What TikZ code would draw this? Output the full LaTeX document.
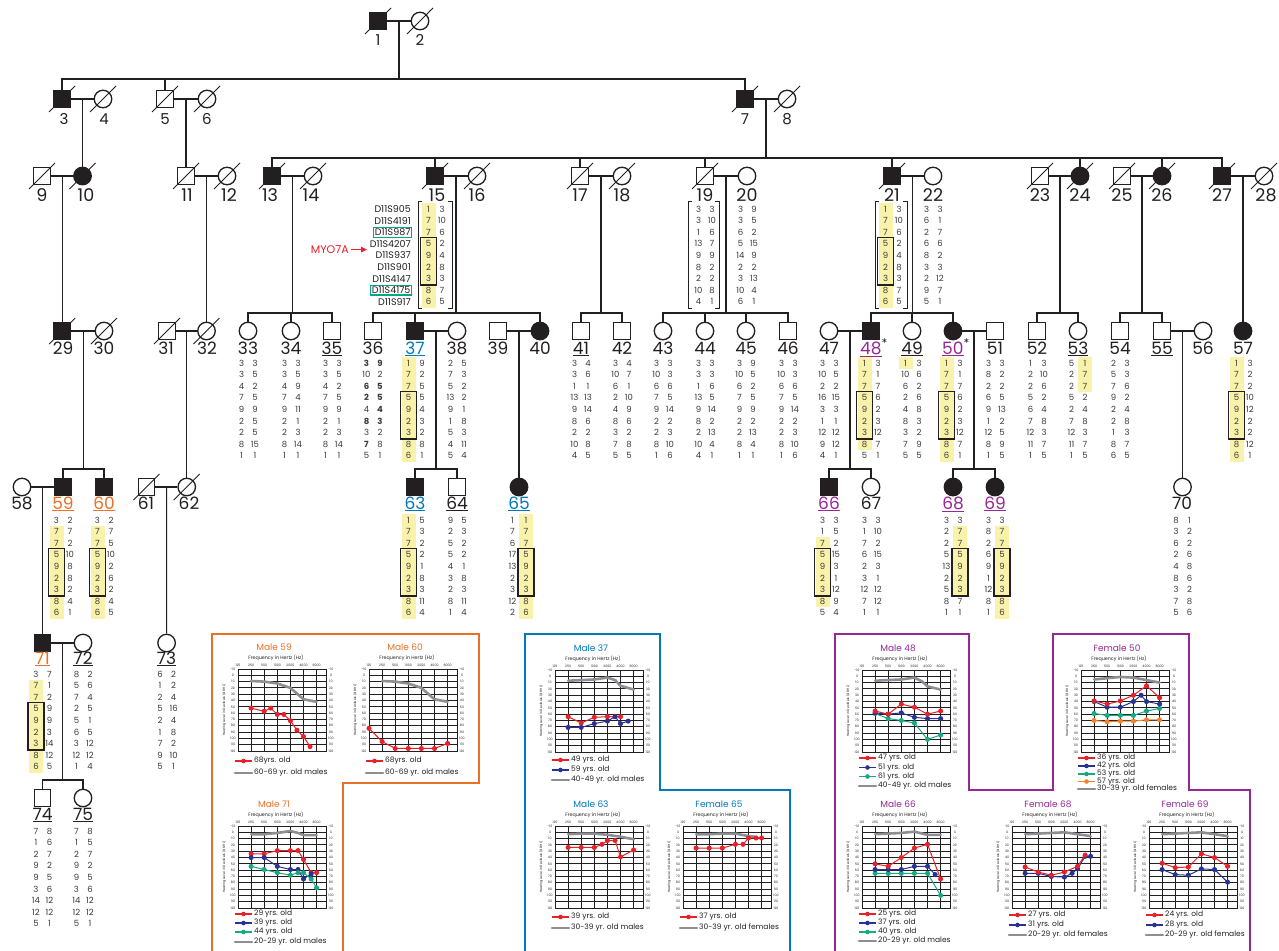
\documentclass[tikz,border=0pt]{standalone}
\usepackage{fontspec}
\setmainfont{Poppins}
\usetikzlibrary{arrows.meta,calc}
\definecolor{ora}{RGB}{234,112,40}
\definecolor{blu}{RGB}{0,120,190}
\definecolor{pur}{RGB}{150,40,150}
\definecolor{hly}{RGB}{248,242,170}
\definecolor{grn}{RGB}{0,168,136}
\definecolor{redc}{RGB}{232,32,40}
\definecolor{bluc}{RGB}{40,50,150}
\definecolor{grnc}{RGB}{20,170,130}
\definecolor{orc}{RGB}{242,130,40}
\definecolor{gryc}{RGB}{140,142,148}
\definecolor{ink}{RGB}{35,31,32}
\definecolor{inkl}{RGB}{60,58,58}
\tikzset{
 ped/.style={line width=1.1pt, draw=ink},
 msym/.style={draw=ink, line width=1.3pt, rectangle, minimum size=16.5pt, inner sep=0pt, fill=white},
 fsym/.style={draw=ink, line width=1.3pt, circle, minimum size=17.5pt, inner sep=0pt, fill=white},
 aff/.style={fill=ink},
 slashl/.style={line width=1pt, draw=ink},
 labA/.style={font=\fontsize{15}{15}\selectfont, inner sep=0pt, text=ink, anchor=base},
 labB/.style={font=\fontsize{17.5}{17.5}\selectfont, inner sep=0pt, text=ink, anchor=base},
 labC/.style={font=\fontsize{17}{17}\selectfont, inner sep=0pt, text=ink, anchor=base},
 hapnum/.style={font=\fontsize{8.5}{8.5}\selectfont, inner sep=0pt, text=inkl},
 markername/.style={font=\fontsize{9.5}{9.5}\selectfont, inner sep=0pt, anchor=east, text=ink},
 greenbox/.style={draw=grn, line width=1.1pt, inner sep=1.3pt},
 haplobox/.style={draw=ink, line width=1.5pt},
 brk/.style={draw=ink, line width=0.9pt},
 panel/.style={line width=2.4pt},
 atitle/.style={font=\fontsize{9}{9}\selectfont, inner sep=0pt},
 afq/.style={font=\fontsize{4.8}{4.8}\selectfont, inner sep=0pt, text=ink},
 atk/.style={font=\fontsize{3.2}{3.2}\selectfont, inner sep=0pt, text=ink},
 alg/.style={font=\fontsize{7.5}{7.5}\selectfont, inner sep=0pt, text=ink, anchor=west},
 agr/.style={draw=ink, line width=1pt},
 gline/.style={draw=gryc, line width=2.6pt, line cap=round, line join=round},
 dline/.style={draw=#1, line width=1pt, mark=*, mark size=2pt, mark options={fill=#1, draw=#1}},
}
\newcommand\pM[3]{\node[msym] (p#1) at (#2,#3) {};}
\newcommand\pMA[3]{\node[msym,aff] (p#1) at (#2,#3) {};}
\newcommand\pF[3]{\node[fsym] (p#1) at (#2,#3) {};}
\newcommand\pFA[3]{\node[fsym,aff] (p#1) at (#2,#3) {};}
\newcommand\pDec[1]{\draw[slashl] ([shift={(-13,13)}]p#1.center) -- ([shift={(13,-13)}]p#1.center);}
\newcommand\marr[2]{\draw[ped] (p#1) -- (p#2); \coordinate (m#1x#2) at ($(p#1)!0.5!(p#2)$);}
\newcommand\lab[5]{\node[#1] (l#2) at (#3,#4) {#5};}
\newcommand\hap[4]{%
  \foreach \ha/\hb [count=\hi] in {#4}{%
    \node[hapnum] (h#1a\hi) at ({#2-6.5},{#3+(\hi-1)*11.6}) {\ha};
    \node[hapnum] (h#1b\hi) at ({#2+7},{#3+(\hi-1)*11.6}) {\hb};
  }}
\newcommand\yelA[4]{\fill[hly] ({#1-13.5},{#2+(#3-1)*11.6-6}) rectangle ({#1+0.5},{#2+(#4-1)*11.6+6});}
\newcommand\yelB[4]{\fill[hly] ({#1},{#2+(#3-1)*11.6-6}) rectangle ({#1+14},{#2+(#4-1)*11.6+6});}
\newcommand\bxA[2]{\draw[haplobox] ({#1-14.5},{#2+3*11.6-6.5}) rectangle ({#1+1.5},{#2+6*11.6+6.5});}
\newcommand\bxB[2]{\draw[haplobox] ({#1-1},{#2+3*11.6-6.5}) rectangle ({#1+15},{#2+6*11.6+6.5});}
\newcommand\hbrk[4]{\draw[brk] ({#1+4},#3) -- (#1,#3) -- (#1,#4) -- ({#1+4},#4);
  \draw[brk] ({#2-4},#3) -- (#2,#3) -- (#2,#4) -- ({#2-4},#4);}
\newcommand\aud[5]{%
\begin{scope}[shift={(#2,#3)}]
 \node[atitle,text=#5] (#1T) at (36,-22) {#4};
 \node[afq] (#1F) at (38,-11) {Frequency in Hertz (Hz)};
 \foreach \fq [count=\kk from 0] in {125,250,500,1000,2000,4000,8000}
   {\node[atk] (#1X\kk) at ({13.1*\kk},-4) {\fq};}
 \foreach \db [count=\kk from 0] in {-10,0,10,20,30,40,50,60,70,80,90,100,110,120}{
   \node[atk] (#1L\kk) at (-5,{\kk*82/13}) {\db};
   \node[atk] (#1R\kk) at (93,{\kk*82/13}) {\db};}
 \node[atk,rotate=90] (#1Y) at (-14,41) {Hearing Level in Decibels (dB HL)};
 \foreach \kk in {1,...,6} {\draw[agr] ({13.1*\kk},0) -- ({13.1*\kk},82);}
 \foreach \kk in {1,...,12} {\draw[agr] (0,{\kk*82/13}) -- (88,{\kk*82/13});}
 \draw[agr] (0,0) rectangle (88,82);
\end{scope}}
\newcommand\crv[4]{%
\begin{scope}[shift={(#1,{#2+10*82/130})}, x=13.1pt, y=-0.630769pt]
 \draw[#3] plot coordinates {#4};
\end{scope}}
\newcommand\lgd[6]{% id x0 y0 offset colour text
\begin{scope}[shift={(#2,#3)}]
 \draw[draw=#5, line width=1.1pt] (-3,#4) -- (14,#4);
 \fill[#5] (5.5,#4) circle (2.3);
 \node[alg] (#1) at (16,#4) {#6};
\end{scope}}
\newcommand\lgg[5]{% id x0 y0 offset text
\begin{scope}[shift={(#2,#3)}]
 \draw[gline] (-3,#4) -- (14,#4);
 \node[alg] (#1) at (16,#4) {#5};
\end{scope}}
\begin{document}
\begin{tikzpicture}[x=1pt,y=-1pt]
\useasboundingbox (0,0) rectangle (1279,950);
\fill[white] (0,0) rectangle (1279,950);
% ---------------- highlights (behind text)
\yelA{435}{209}{1}{9}
\yelA{892}{209}{1}{9}
\yelA{415}{363}{1}{9}
\yelA{871}{363}{1}{8}
\yelA{912}{363}{1}{1}
\yelA{953}{363}{1}{9}
\yelB{1078}{363}{1}{3}
\yelA{1243}{363}{1}{9}
\yelA{63}{520}{2}{9}
\yelA{104}{520}{2}{9}
\yelA{415}{520}{1}{9}
\yelB{519}{520}{1}{9}
\yelA{829}{520}{3}{8}
\yelB{953}{520}{2}{7}
\yelB{995}{520}{2}{9}
\yelA{42.5}{674}{2}{9}
% ---------------- symbols
\pMA{1}{378}{21} \pF{2}{420}{21}
\pMA{3}{62}{99} \pF{4}{103}{99} \pM{5}{165}{99} \pF{6}{207}{99} \pMA{7}{745}{99} \pF{8}{787}{99}
\pM{9}{42}{176} \pFA{10}{82.5}{176} \pM{11}{186}{176} \pF{12}{227}{176}
\pMA{13}{272}{176} \pF{14}{313}{176} \pMA{15}{435}{176} \pF{16}{477}{176}
\pM{17}{580}{176} \pF{18}{622}{176} \pM{19}{705}{176} \pF{20}{747}{176}
\pMA{21}{892}{176} \pF{22}{933}{176} \pM{23}{1040}{176} \pFA{24}{1080}{176}
\pM{25}{1122}{176} \pFA{26}{1162}{176} \pMA{27}{1222}{176} \pF{28}{1264}{176}
\pMA{29}{62.25}{331} \pF{30}{104}{331} \pM{31}{167}{331} \pF{32}{206.5}{331}
\pF{33}{248}{331} \pF{34}{291}{331} \pM{35}{332}{331}
\pM{36}{373}{331} \pMA{37}{415}{331} \pF{38}{457}{331} \pM{39}{498}{331} \pFA{40}{540}{331}
\pM{41}{581}{331} \pM{42}{622}{331}
\pF{43}{663}{331} \pF{44}{705}{331} \pF{45}{746}{331} \pM{46}{788}{331}
\pF{47}{829}{331} \pMA{48}{871}{331} \pF{49}{912}{331} \pFA{50}{953}{331} \pM{51}{995}{331}
\pM{52}{1037}{331} \pF{53}{1078}{331} \pM{54}{1120}{331} \pM{55}{1162}{331} \pF{56}{1203}{331} \pFA{57}{1243}{331}
\pF{58}{22}{487} \pMA{59}{63}{487} \pMA{60}{104}{487} \pM{61}{146.5}{487} \pF{62}{186.75}{487}
\pMA{63}{415}{487} \pM{64}{457}{487} \pFA{65}{519}{487}
\pMA{66}{829}{487} \pF{67}{871}{487} \pFA{68}{953}{487} \pFA{69}{995}{487} \pF{70}{1182.5}{487}
\pMA{71}{42.5}{643} \pF{72}{83}{643} \pF{73}{166.6}{643}
\pM{74}{42.5}{798} \pF{75}{83}{798}
% ---------------- lines
\coordinate (y2) at (0,79); \coordinate (y3) at (0,158); \coordinate (y4) at (0,313);
\coordinate (y5) at (0,469); \coordinate (y7) at (0,780);
\marr{1}{2} \draw[ped] (m1x2) -- (m1x2 |- y2);
\draw[ped] (p3.north) -- (p3.north |- y2) -- (p7.north |- y2) -- (p7.north);
\draw[ped] (p5.north) -- (p5.north |- y2);
\marr{3}{4} \draw[ped] (m3x4) -- (p10.north);
\marr{5}{6} \draw[ped] (m5x6) -- (p11.north);
\marr{7}{8} \draw[ped] (m7x8) -- (m7x8 |- y3);
\draw[ped] (p13.north) -- (p13.north |- y3) -- (p27.north |- y3) -- (p27.north);
\foreach \c in {15,17,19,21,24,26} {\draw[ped] (p\c.north) -- (p\c.north |- y3);}
\marr{9}{10} \draw[ped] (m9x10) -- (p29.north);
\marr{11}{12} \draw[ped] (m11x12) -- (p32.north);
\marr{13}{14} \draw[ped] (m13x14) -- (m13x14 |- y4);
\draw[ped] (p33.north) -- (p33.north |- y4) -- (p35.north |- y4) -- (p35.north);
\draw[ped] (p34.north) -- (p34.north |- y4);
\marr{15}{16} \draw[ped] (m15x16) -- (m15x16 |- y4);
\draw[ped] (p36.north) -- (p36.north |- y4) -- (p40.north |- y4) -- (p40.north);
\draw[ped] (p37.north) -- (p37.north |- y4);
\marr{17}{18} \draw[ped] (m17x18) -- (m17x18 |- y4);
\draw[ped] (p41.north) -- (p41.north |- y4) -- (p42.north |- y4) -- (p42.north);
\marr{19}{20} \draw[ped] (m19x20) -- (m19x20 |- y4);
\draw[ped] (p43.north) -- (p43.north |- y4) -- (p46.north |- y4) -- (p46.north);
\foreach \c in {44,45} {\draw[ped] (p\c.north) -- (p\c.north |- y4);}
\marr{21}{22} \draw[ped] (m21x22) -- (m21x22 |- y4);
\draw[ped] (p48.north) -- (p48.north |- y4) -- (p50.north |- y4) -- (p50.north);
\draw[ped] (p49.north) -- (p49.north |- y4);
\marr{23}{24} \draw[ped] (m23x24) -- (m23x24 |- y4);
\draw[ped] (p52.north) -- (p52.north |- y4) -- (p53.north |- y4) -- (p53.north);
\marr{25}{26} \draw[ped] (m25x26) -- (m25x26 |- y4);
\draw[ped] (p54.north) -- (p54.north |- y4) -- (p55.north |- y4) -- (p55.north);
\marr{27}{28} \draw[ped] (m27x28) -- (p57.north);
\marr{29}{30} \draw[ped] (m29x30) -- (m29x30 |- y5);
\draw[ped] (p59.north) -- (p59.north |- y5) -- (p60.north |- y5) -- (p60.north);
\marr{31}{32} \draw[ped] (m31x32) -- (p62.north);
\marr{37}{38} \draw[ped] (m37x38) -- (m37x38 |- y5);
\draw[ped] (p63.north) -- (p63.north |- y5) -- (p64.north |- y5) -- (p64.north);
\marr{39}{40} \draw[ped] (m39x40) -- (p65.north);
\marr{47}{48} \draw[ped] (m47x48) -- (m47x48 |- y5);
\draw[ped] (p66.north) -- (p66.north |- y5) -- (p67.north |- y5) -- (p67.north);
\marr{50}{51} \draw[ped] (m50x51) -- (m50x51 |- y5);
\draw[ped] (p68.north) -- (p68.north |- y5) -- (p69.north |- y5) -- (p69.north);
\marr{55}{56} \draw[ped] (m55x56) -- (p70.north);
\marr{58}{59} \draw[ped] (m58x59) -- (p71.north);
\marr{61}{62} \draw[ped] (m61x62) -- (p73.north);
\marr{71}{72} \draw[ped] (m71x72) -- (m71x72 |- y7);
\draw[ped] (p74.north) -- (p74.north |- y7) -- (p75.north |- y7) -- (p75.north);
% deceased
\foreach \c in {1,2,3,4,5,6,7,8,9,10,11,12,13,14,15,16,17,18,19,21,23,24,25,26,27,28,29,30,31,32,61,62} {\pDec{\c}}
% ---------------- labels
\foreach \c/\x in {1/378,2/420} {\lab{labA}{\c}{\x}{46}{\c}}
\foreach \c/\x in {3/64,4/104,5/165,6/207,7/745,8/787} {\lab{labA}{\c}{\x}{124}{\c}}
\foreach \c/\x in {9/42,10/86,11/187,12/229,13/270,14/311,15/437,16/477,17/580,18/622,19/705,20/747,21/892,22/933,23/1040,24/1080,25/1122,26/1162,27/1222,28/1266}
  {\lab{labB}{\c}{\x}{201.5}{\c}}
\foreach \c/\x in {29/63,30/104,31/166,32/207,33/248,34/291,36/373,38/457,39/498,40/540,42/622,43/663,44/705,45/746,46/788,47/829,51/995,52/1037,54/1120,56/1203,57/1243}
  {\lab{labC}{\c}{\x}{354}{\c}}
\foreach \c/\x in {35/332,41/581,49/912,53/1078,55/1162}
  {\lab{labC}{\c}{\x}{354}{\underline{\c}}}
\lab{labC,text=blu}{37}{415}{354}{\underline{37}}
\lab{labC,text=pur}{48}{874}{354}{\underline{48}\textsuperscript{\color{ink}*}}
\lab{labC,text=pur}{50}{956}{354}{\underline{50}\textsuperscript{\color{ink}*}}
\lab{labC}{58}{22}{509}{58}
\lab{labC,text=ora}{59}{63}{509}{\underline{59}}
\lab{labC,text=ora}{60}{104}{509}{\underline{60}}
\lab{labC}{61}{146}{509}{61}
\lab{labC}{62}{189}{509}{62}
\lab{labC,text=blu}{63}{415}{509}{\underline{63}}
\lab{labC}{64}{457}{509}{\underline{64}}
\lab{labC,text=blu}{65}{519}{509}{\underline{65}}
\lab{labC,text=pur}{66}{829}{509}{\underline{66}}
\lab{labC}{67}{871}{509}{67}
\lab{labC,text=pur}{68}{953}{509}{\underline{68}}
\lab{labC,text=pur}{69}{995}{509}{\underline{69}}
\lab{labC}{70}{1182}{509}{70}
\lab{labC,text=ora}{71}{42.5}{664}{\underline{71}}
\lab{labC}{72}{83}{664}{\underline{72}}
\lab{labC}{73}{166.6}{664}{\underline{73}}
\lab{labC}{74}{42.5}{820}{\underline{74}}
\lab{labC}{75}{83}{820}{\underline{75}}
% ---------------- marker names
\node[markername] (k1) at (411,209) {D11S905};
\node[markername] (k2) at (411,220.6) {D11S4191};
\node[markername, greenbox] (k3) at (412.3,232.2) {D11S987};
\node[markername] (k4) at (411,243.8) {D11S4207};
\node[markername] (k5) at (411,255.4) {D11S937};
\node[markername] (k6) at (411,267) {D11S901};
\node[markername] (k7) at (411,278.6) {D11S4147};
\node[markername, greenbox] (k8) at (412.3,290.2) {D11S4175};
\node[markername] (k9) at (411,301.8) {D11S917};
\node[font=\fontsize{11}{11}\selectfont, text=redc, anchor=east, inner sep=0pt] (myo) at (349,249.6) {MYO7A};
\coordinate (myoT) at (367,249.6);
\draw[redc, line width=1.6pt, -{Triangle[length=6pt,width=5.5pt]}] (myo.east) ++(1.5,0) -- (myoT);
% ---------------- brackets
\hbrk{418}{452}{201}{308}
\hbrk{688}{719}{201}{308}
\hbrk{875}{907}{201}{308}
% ---------------- haplotypes
\hap{15}{435}{209}{1/3,7/10,7/6,5/2,9/4,2/8,3/3,8/7,6/5}
\hap{19}{705}{209}{3/3,3/10,1/6,13/7,9/9,8/2,2/2,10/8,4/1}
\hap{20}{747}{209}{3/9,3/5,6/2,5/15,14/9,2/2,3/13,10/4,6/1}
\hap{21}{892}{209}{1/3,7/10,7/6,5/2,9/4,2/8,3/3,8/7,6/5}
\hap{22}{933}{209}{3/3,6/1,2/7,6/6,8/2,3/3,2/12,9/7,5/1}
\hap{33}{248}{363}{3/3,3/5,4/2,7/5,9/9,2/5,2/5,8/15,1/1}
\hap{34}{291}{363}{3/3,3/5,4/9,7/4,9/11,2/1,2/3,8/14,1/1}
\hap{35}{332}{363}{3/3,3/5,4/2,7/5,9/9,2/1,2/3,8/14,1/1}
\hap{36}{373}{363}{\textbf{3}/\textbf{9},10/2,\textbf{6}/\textbf{5},\textbf{2}/\textbf{5},4/\textbf{4},\textbf{8}/\textbf{3},3/2,\textbf{7}/8,5/1}
\hap{37}{415}{363}{1/9,7/2,7/5,5/5,9/4,2/3,3/2,8/8,6/1}
\hap{38}{457}{363}{2/5,7/3,5/2,13/2,9/1,1/8,5/3,4/11,5/4}
\hap{41}{581}{363}{3/4,3/6,1/1,13/13,9/14,8/6,2/2,10/8,4/5}
\hap{42}{622}{363}{3/4,10/7,6/1,2/10,4/9,8/6,3/2,7/8,5/5}
\hap{43}{663}{363}{3/3,10/3,6/6,7/5,9/14,2/2,2/3,8/10,1/6}
\hap{44}{705}{363}{3/3,3/3,1/6,13/5,9/14,8/2,2/13,10/4,4/1}
\hap{45}{746}{363}{3/9,10/5,6/2,7/5,9/9,2/2,2/13,8/4,1/1}
\hap{46}{788}{363}{3/3,10/3,6/6,7/5,9/14,2/2,2/3,8/10,1/6}
\hap{47}{829}{363}{3/3,10/5,2/2,16/15,3/3,1/1,12/12,9/12,4/1}
\hap{48}{871}{363}{1/3,7/1,7/7,5/6,9/2,2/3,3/12,8/7,5/1}
\hap{49}{912}{363}{1/3,10/6,6/2,2/6,4/8,8/3,3/2,7/9,5/5}
\hap{50}{953}{363}{1/3,7/1,7/7,5/6,9/2,2/3,3/12,8/7,6/1}
\hap{51}{995}{363}{3/3,8/2,2/2,6/5,9/13,1/2,12/5,8/9,1/5}
\hap{52}{1037}{363}{1/3,2/10,2/6,5/2,6/4,7/8,12/3,11/7,1/5}
\hap{53}{1078}{363}{5/1,2/7,2/7,5/2,2/4,7/8,12/3,11/7,1/5}
\hap{54}{1120}{363}{2/3,5/3,7/6,9/2,2/4,2/8,1/3,8/7,6/5}
\hap{57}{1243}{363}{1/3,7/2,7/2,5/10,9/12,2/2,3/2,8/12,6/1}
\hap{59}{63}{520}{3/2,7/7,7/2,5/10,9/8,2/8,3/2,8/4,6/1}
\hap{60}{104}{520}{3/2,7/7,7/5,5/10,9/2,2/6,3/2,8/4,6/5}
\hap{63}{415}{520}{1/5,7/3,7/2,5/2,9/1,2/8,3/3,8/11,6/4}
\hap{64}{457}{520}{9/5,2/3,5/2,5/2,4/1,3/8,2/3,8/11,1/4}
\hap{65}{519}{520}{1/1,7/7,6/7,17/5,13/9,2/2,3/3,12/8,2/6}
\hap{66}{829}{520}{3/3,1/5,7/2,5/15,9/3,2/1,3/12,8/9,5/4}
\hap{67}{871}{520}{3/3,1/10,7/2,6/15,2/3,3/1,12/12,7/12,1/1}
\hap{68}{953}{520}{3/3,2/7,2/7,5/5,13/9,2/2,5/3,8/7,1/1}
\hap{69}{995}{520}{3/3,8/7,2/7,6/5,9/9,1/2,12/3,8/8,1/6}
\hap{70}{1182.5}{520}{8/1,3/2,6/2,2/6,4/8,8/6,3/2,7/8,5/6}
\hap{71}{42.5}{674}{3/7,7/1,7/2,5/9,9/9,2/3,3/14,8/12,6/5}
\hap{72}{83}{674}{8/2,5/6,7/4,2/5,5/1,6/5,3/12,12/12,1/4}
\hap{73}{166.6}{674}{6/2,1/2,2/4,5/16,2/4,1/8,7/2,9/10,5/1}
\hap{74}{42.5}{831}{7/8,1/6,2/7,9/2,9/5,3/6,14/12,12/12,5/1}
\hap{75}{83}{831}{7/8,1/5,2/7,9/2,9/5,3/6,14/12,12/12,5/1}
% boxes
\bxA{435}{209} \bxA{892}{209} \bxA{415}{363} \bxA{871}{363} \bxA{953}{363} \bxA{1243}{363}
\bxA{63}{520} \bxA{104}{520} \bxA{415}{520} \bxB{519}{520} \bxA{829}{520} \bxB{953}{520} \bxB{995}{520}
\bxA{42.5}{674}
% ---------------- panels
\draw[panel, ora] (212,951) -- (212,634) -- (479,634) -- (479,783) -- (343,783) -- (343,951);
\draw[panel, blu] (525,951) -- (525,634) -- (660,634) -- (660,790) -- (790,790) -- (790,951);
\draw[panel, pur] (835,951) -- (835,634) -- (969,634) -- (969,790) -- (1053,790) -- (1053,634) -- (1189,634) -- (1189,790) -- (1250,790) -- (1250,951);
% ---------------- audiograms
\aud{a59}{238}{669}{Male 59}{ora}
\crv{238}{669}{gline}{(1,9) (2,10) (3,13) (4,20) (4.5,29) (5,38) (6,42)}
\crv{238}{669}{dline=redc}{(1,52) (2,57) (2.5,52) (3,62) (3.5,62) (4,72) (4.5,87) (5,97) (5.5,113)}
\lgd{g59a}{238}{669}{92}{redc}{68yrs. old}
\lgg{g59b}{238}{669}{104}{60-69 yr. old males}
\aud{a60}{369}{669}{Male 60}{ora}
\crv{369}{669}{gline}{(1,9) (2,10) (3,13) (4,20) (4.5,29) (5,38) (6,42)}
\crv{369}{669}{dline=redc}{(0,84) (1,105) (2,116) (3,116) (4,116) (5,116) (6,108)}
\lgd{g60a}{369}{669}{92}{redc}{68yrs. old}
\lgg{g60b}{369}{669}{104}{60-69 yr. old males}
\aud{a71}{238}{826}{Male 71}{ora}
\crv{238}{826}{gline}{(1,3) (2,3) (3,1) (4,-2) (4.585,1) (5,4.5) (6,4.5)}
\crv{238}{826}{dline=redc}{(1,34) (2,34) (3,29) (4,29) (4.585,29) (5,43) (5.585,64) (6,64)}
\crv{238}{826}{dline=bluc}{(1,40) (2,40) (3,54) (4,59) (4.585,59) (5,74) (5.585,66)}
\crv{238}{826}{dline=grnc}{(1,54) (2,59) (3,64) (4,68) (4.585,64) (5,64) (5.585,74) (6,88)}
\lgd{g71a}{238}{826}{88}{redc}{29 yrs. old}
\lgd{g71b}{238}{826}{97}{bluc}{39 yrs. old}
\lgd{g71c}{238}{826}{106}{grnc}{44 yrs. old}
\lgg{g71d}{238}{826}{116}{20-29 yr. old males}
\aud{a37}{555}{670}{Male 37}{blu}
\crv{555}{670}{gline}{(1,7) (2,6) (3,5) (4,2) (4.585,6) (5,15) (6,21)}
\crv{555}{670}{dline=redc}{(1,64) (2,74) (3,65) (4,64) (4.585,64) (5,64)}
\crv{555}{670}{dline=bluc}{(1,81) (2,81) (3,75) (4,71) (4.585,64) (5,75) (5.585,71)}
\lgd{g37a}{555}{670}{90}{redc}{49 yrs. old}
\lgd{g37b}{555}{670}{100}{bluc}{59 yrs. old}
\lgg{g37c}{555}{670}{110}{40-49 yr. old males}
\aud{a63}{555}{826}{Male 63}{blu}
\crv{555}{826}{gline}{(1,3) (2,2) (3,2) (4,4) (5,7) (6,11)}
\crv{555}{826}{dline=redc}{(1,24) (2,24) (3,24) (3.585,19) (4,13) (4.585,13) (5,39) (6,28)}
\lgd{g63a}{555}{826}{91}{redc}{39 yrs. old}
\lgg{g63b}{555}{826}{102}{30-39 yr. old males}
\aud{a65}{683}{826}{Female 65}{blu}
\crv{683}{826}{gline}{(1,3) (2,3) (3,2) (4,2) (5,6) (5.5,7)}
\crv{683}{826}{dline=redc}{(1,25) (2,25) (3,25) (4,19) (4.585,19) (5,9) (5.585,9) (6,9)}
\lgd{g65a}{683}{826}{91}{redc}{37 yrs. old}
\lgg{g65b}{683}{826}{102}{30-39 yr. old females}
\aud{a48}{862}{670}{Male 48}{pur}
\crv{862}{670}{gline}{(1,7) (2,6) (3,5) (4,2) (4.585,8) (5,16) (6,21)}
\crv{862}{670}{dline=grnc}{(1,59) (2,67) (3,70) (4,74) (5,100) (6,93)}
\crv{862}{670}{dline=bluc}{(1,58) (2,60) (3,58) (4,65) (5,67) (6,67)}
\crv{862}{670}{dline=redc}{(1,55) (2,60) (3,44) (4,49) (5,60) (6,55)}
\lgd{g48a}{862}{670}{88}{redc}{47 yrs. old}
\lgd{g48b}{862}{670}{97.5}{bluc}{51 yrs. old}
\lgd{g48c}{862}{670}{106.5}{grnc}{61 yrs. old}
\lgg{g48d}{862}{670}{116}{40-49 yr. old males}
\aud{a50}{1081}{670}{Female 50}{pur}
\crv{1081}{670}{gline}{(1,5) (2,3) (3,1) (4,2) (5,6) (6,10)}
\crv{1081}{670}{dline=orc}{(1,70) (2,72) (3,71) (4,71) (5,69) (6,69)}
\crv{1081}{670}{dline=grnc}{(1,59) (2,62) (3,62) (4,62) (5,55) (6,51)}
\crv{1081}{670}{dline=bluc}{(1,40) (2,49) (3,49) (4,40) (4.585,30) (5,40) (6,44)}
\crv{1081}{670}{dline=redc}{(1,39) (2,44) (3,39) (4,30) (5,15) (6,34)}
\lgd{g50a}{1081}{670}{88}{redc}{36 yrs. old}
\lgd{g50b}{1081}{670}{96}{bluc}{42 yrs. old}
\lgd{g50c}{1081}{670}{104}{grnc}{53 yrs. old}
\lgd{g50d}{1081}{670}{111.5}{orc}{57 yrs. old}
\lgg{g50e}{1081}{670}{119}{30-39 yr. old females}
\aud{a66}{862}{826}{Male 66}{pur}
\crv{862}{826}{gline}{(1,3) (2,2) (3,1) (4,-1) (5,4) (6,4)}
\crv{862}{826}{dline=grnc}{(1,65) (2,65) (3,65) (4,65) (5,65) (6,100)}
\crv{862}{826}{dline=bluc}{(1,59) (2,59) (3,59) (4,54) (5,54) (5.585,67)}
\crv{862}{826}{dline=redc}{(1,50) (2,54) (3,40) (4,25) (5,19) (6,74)}
\lgd{g66a}{862}{826}{88}{redc}{25 yrs. old}
\lgd{g66b}{862}{826}{97}{bluc}{37 yrs. old}
\lgd{g66c}{862}{826}{106}{grnc}{40 yrs. old}
\lgg{g66d}{862}{826}{115}{20-29 yr. old males}
\aud{a68}{1012}{826}{Female 68}{pur}
\crv{1012}{826}{gline}{(1,3) (2,2) (3,1) (4,0) (5,3) (6,6)}
\crv{1012}{826}{dline=bluc}{(1,65) (2,65) (3,70) (4,71) (4.585,65) (5,58) (5.585,38) (6,38)}
\crv{1012}{826}{dline=redc}{(1,55) (2,63) (3,68) (4,63) (5,54) (5.585,36)}
\lgd{g68a}{1012}{826}{89}{redc}{27 yrs. old}
\lgd{g68b}{1012}{826}{99}{bluc}{31 yrs. old}
\lgg{g68c}{1012}{826}{109}{20-29 yr. old females}
\aud{a69}{1149}{826}{Female 69}{pur}
\crv{1149}{826}{gline}{(1,3) (2,2) (3,1) (4,0) (5,3) (6,6)}
\crv{1149}{826}{dline=bluc}{(1,59) (2,67) (3,68) (4,58) (5,59) (6,79)}
\crv{1149}{826}{dline=redc}{(1,49) (2,56) (3,55) (4,34) (5,40) (6,54)}
\lgd{g69a}{1149}{826}{89}{redc}{24 yrs. old}
\lgd{g69b}{1149}{826}{99}{bluc}{28 yrs. old}
\lgg{g69c}{1149}{826}{109}{20-29 yr. old females}
\end{tikzpicture}
\end{document}
